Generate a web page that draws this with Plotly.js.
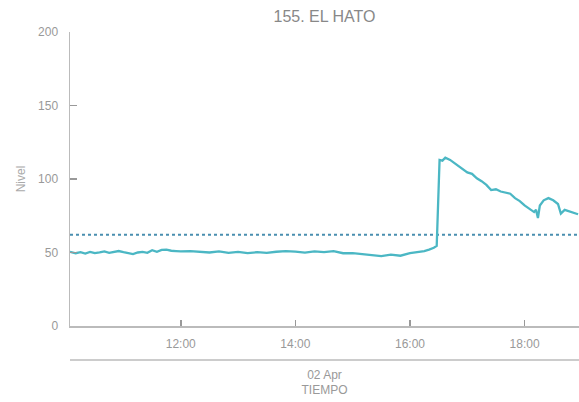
<!DOCTYPE html>
<html>
<head>
<meta charset="utf-8">
<script src="https://cdn.plot.ly/plotly-3.0.1.min.js"></script>
<style>html,body{margin:0;padding:0;background:#fff;}#chart{width:579px;height:402px;}</style>
</head>
<body>
<div id="chart"></div>
<script>
var day = "2024-04-02 ";
var times = ["10:04","10:10","10:15","10:20","10:25","10:30","10:35","10:40","10:45","10:50","10:55",
"11:00","11:05","11:10","11:15","11:20","11:25","11:30","11:35","11:40","11:45","11:50","11:55",
"12:00","12:10","12:20","12:30","12:40","12:50","13:00","13:10","13:20","13:30","13:40","13:50",
"14:00","14:10","14:20","14:30","14:40","14:50","15:00","15:10","15:20","15:30","15:40","15:50",
"16:00","16:10","16:15","16:20","16:25","16:28","16:30","16:31","16:34","16:37","16:42","16:45",
"16:50","16:55","17:00","17:05","17:10","17:15","17:20","17:25","17:30","17:35","17:40","17:45",
"17:50","17:55","18:00","18:05","18:10","18:12","18:14","18:16","18:20","18:25","18:30","18:35",
"18:38","18:42","18:47","18:52","18:56"];
var nivel = [50.5,49.5,50.2,49.3,50.4,49.6,50.1,50.8,49.8,50.6,51.0,
50.2,49.5,48.9,50.0,50.4,49.8,51.6,50.5,51.8,52.0,51.2,51.0,
50.8,51.0,50.6,50.0,50.8,49.8,50.4,49.6,50.2,49.7,50.5,50.9,
50.6,49.9,50.8,50.3,50.9,49.5,49.6,48.8,48.2,47.6,48.5,47.8,
49.6,50.4,51.0,52.0,53.2,54.5,95,113,112.5,114.5,113,111.5,
109,106.5,104.5,103.5,100.5,98.5,96,92.5,93,91.5,91,90,
87,85,82,80,77.5,79,73.5,82,85.5,87,85.5,83,
76.5,79,78,77,76];
var umbralX = ["10:04","18:57"];
var umbralY = [62,62];
var tickVals = ["12:00","14:00","16:00","18:00"];

var x = times.map(function(t){return day + t;});
var data = [
  {x: umbralX.map(function(t){return day+t;}), y: umbralY, mode: "lines", type: "scatter",
   line: {color: "#4a8fb0", width: 2, dash: "dot"}, hoverinfo: "skip"},
  {x: x, y: nivel, mode: "lines", type: "scatter", line: {color: "#4bb7c4", width: 2.3}}
];
var layout = {
  width: 579, height: 402,
  margin: {l: 70, r: 0, t: 32, b: 76},
  paper_bgcolor: "#fff", plot_bgcolor: "#fff",
  font: {family: "Liberation Sans, Arial, sans-serif", color: "#999", size: 12},
  showlegend: false,
  title: {text: "155. EL HATO", font: {size: 16, color: "#888"}, x: 0.5, xref: "paper", y: 1 - 16/402, yanchor: "middle"},
  xaxis: {
    type: "date", range: [day + "10:04", day + "18:57"],
    tickvals: tickVals.map(function(t){return day+t;}), ticktext: tickVals,
    ticks: "inside", ticklen: 6, tickwidth: 1.5, tickcolor: "#999", ticklabelstandoff: 6,
    showline: true, linecolor: "#bbb", linewidth: 1.5, showgrid: false, zeroline: false,
    tickfont: {size: 12, color: "#999"},
    title: {text: "02 Apr<br>TIEMPO", font: {size: 12, color: "#999"}, standoff: 20}
  },
  yaxis: {
    range: [0, 200], tickvals: [0,50,100,150,200],
    ticks: "inside", ticklen: 7, tickwidth: 1.5, tickcolor: "#999", ticklabelstandoff: 8,
    showline: true, linecolor: "#bbb", linewidth: 1.5, showgrid: false, zeroline: false,
    tickfont: {size: 12, color: "#999"},
    title: {text: "Nivel", font: {size: 12, color: "#aaa"}, standoff: 10}
  },
  shapes: [{type: "line", xref: "paper", yref: "paper", x0: 0, x1: 1, y0: -34/294, y1: -34/294,
            line: {color: "#bbb", width: 1.5}}]
};
Plotly.newPlot("chart", data, layout, {displayModeBar: false, staticPlot: true});
</script>
</body>
</html>
